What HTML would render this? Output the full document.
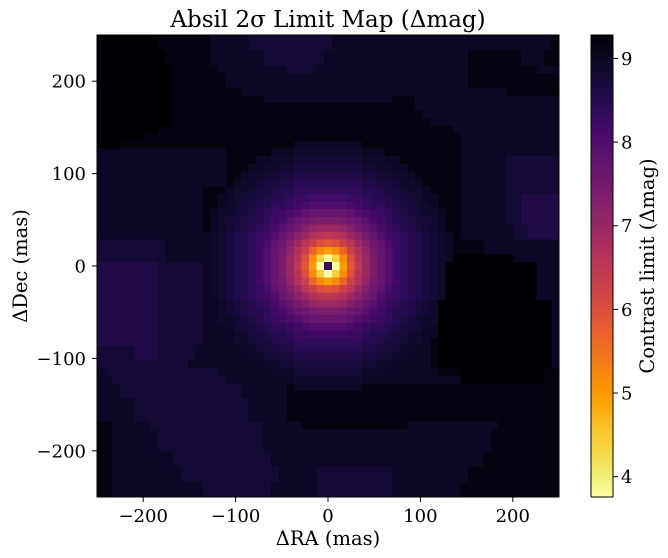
<!DOCTYPE html>
<html><head><meta charset="utf-8"><style>
html,body{margin:0;padding:0;background:#fff;}
svg{display:block;font-family:"DejaVu Serif","Liberation Serif",serif;}
</style></head><body>
<svg id="chart" width="668" height="558" viewBox="0 0 668 558" xmlns="http://www.w3.org/2000/svg">
<text x="328" y="27" font-size="23" text-anchor="middle" fill="#000">Absil 2σ Limit Map (Δmag)</text>
<g id="cells" shape-rendering="crispEdges"></g>
<rect x="97" y="35" width="462" height="462" fill="none" stroke="#000" stroke-width="1"/>
<g id="xaxis"></g>
<g id="yaxis"></g>
<text x="328" y="545" font-size="19.5" text-anchor="middle">ΔRA (mas)</text>
<text transform="translate(27,266) rotate(-90)" font-size="19.5" text-anchor="middle">ΔDec (mas)</text>
<defs><linearGradient id="cbgrad" x1="0" y1="1" x2="0" y2="0"></linearGradient></defs>
<rect x="591" y="35" width="22" height="462" fill="url(#cbgrad)" stroke="#000" stroke-width="1"/>
<g id="cbaxis"></g>
<text transform="translate(654,266) rotate(-90)" font-size="19.5" text-anchor="middle">Contrast limit (Δmag)</text>
</svg>
<script>
// ---- data ----
const levelChars = "0123456789abcdefghijklmnopqrstuvwxyzABCDEFGHIJKLMNOPQRSTUVWXYZ";
const levelTopValue = 9.28;   // Δmag of level 0
const levelStep = 0.1;        // Δmag drop per level
const xTicks = [-200, -100, 0, 100, 200];
const yTicks = [-200, -100, 0, 100, 200];
const cbTicks = [4, 5, 6, 7, 8, 9];
const colorMin = 3.757;
const colorMax = 9.28;
const axisExtent = [-250, 250];
const gridSize = 61;
// background levels, run-length rows (level*count), top row first
const backgroundRuns = [
"0*8,1*7,3*5,5*11,3*29,1*1",
"0*8,1*7,3*5,5*11,3*29,1*1",
"0*9,1*6,3*7,5*8,3*19,1*7,3*3,1*2",
"0*9,1*6,3*7,5*8,3*19,1*7,3*3,1*2",
"0*10,1*6,3*9,5*4,3*20,1*9,3*3",
"0*10,1*7,3*32,1*12",
"0*10,1*7,3*32,1*12",
"0*10,1*9,3*35,1*7",
"0*10,1*12,3*17,1*3,3*19",
"0*10,1*32,3*19",
"0*10,1*33,3*18",
"0*10,1*34,3*17",
"0*8,1*39,3*14",
"0*6,1*42,3*13",
"0*3,1*45,3*13",
"3*17,1*31,3*13",
"3*17,1*31,3*6,5*7",
"3*17,1*31,3*6,5*7",
"3*17,1*31,3*6,5*7",
"3*17,1*31,3*6,5*7",
"3*14,1*34,3*6,5*7",
"3*14,1*34,3*6,5*2,7*5",
"3*14,1*34,3*6,5*2,7*5",
"3*14,1*34,3*6,5*2,7*5",
"3*14,1*34,3*6,5*2,7*5",
"3*14,1*34,3*7,5*2,7*4",
"3*14,1*34,3*7,5*2,7*4",
"5*9,3*5,1*37,3*10",
"5*9,3*5,1*37,3*10",
"5*9,3*5,1*33,0*8,3*6",
"7*8,5*6,3*31,1*1,0*12,3*3",
"7*8,5*6,3*31,1*1,0*12,3*3",
"7*8,5*6,3*31,1*1,0*12,3*3",
"7*8,5*6,3*31,1*1,0*12,3*3",
"7*8,5*6,3*31,1*1,0*12,3*3",
"7*8,5*6,3*30,1*1,0*15,3*1",
"7*8,5*6,3*30,1*1,0*15,3*1",
"7*8,5*6,3*30,1*1,0*15,3*1",
"7*8,5*6,3*30,1*1,0*15,3*1",
"7*8,5*6,3*30,1*1,0*15,3*1",
"7*8,5*6,3*30,1*1,0*15,3*1",
"5*5,7*3,5*5,3*31,1*1,0*15,3*1",
"5*5,7*3,5*5,3*31,1*1,0*15,3*1",
"5*12,3*32,1*1,0*15,3*1",
"3*1,5*15,3*29,1*3,0*11,1*2",
"3*2,5*15,3*31,0*11,1*2",
"3*3,5*16,3*6,1*36",
"3*3,5*16,3*6,1*36",
"3*5,5*15,3*5,1*36",
"3*5,5*15,3*5,1*36",
"3*5,5*15,3*5,1*36",
"1*2,3*5,5*15,3*5,1*14,3*12,1*8",
"1*2,3*6,5*14,3*30,1*9",
"1*2,3*6,5*14,3*30,1*9",
"1*2,3*6,5*14,3*30,1*9",
"1*2,3*8,5*13,3*28,1*10",
"1*2,3*8,5*13,3*28,1*10",
"1*2,3*9,5*13,3*5,5*10,3*10,1*12",
"1*2,3*9,5*13,3*5,5*10,3*10,1*12",
"1*2,3*12,5*9,3*6,5*10,3*9,1*13",
"1*2,3*12,5*9,3*6,5*10,3*9,1*13"
];
// central PSF halo levels, rows 14..46, cols 14..46
const haloOrigin = 14;
const haloRows = [
"222222222222333333333222222222222",
"222222222333444444444333222222222",
"222222233444555555555444332222222",
"222222334455666666666554433222222",
"222223445566777777777665544322222",
"222234456677888888888776654432222",
"222344566788999999999887665443222",
"223345667889aabbbbbaa988766543322",
"22345667899abcdddddcba99876654322",
"234456789abcdfgggggfdcba987654432",
"234567889bceghijjjihgecb988765432",
"23456789acegikmnnnmkigeca98765432",
"3456789abdgilnqrsrqnligdba9876543",
"3456789acfhknruxyxurnkhfca9876543",
"3456789bdgimquAFHFAuqmigdb9876543",
"3456789bdgjnrxFNTNFxrnjgdb9876543",
"3456789bdgjnsyHTaTHysnjgdb9876543",
"3456789bdgjnrxFNTNFxrnjgdb9876543",
"3456789bdgimquAFHFAuqmigdb9876543",
"3456789acfhknruxyxurnkhfca9876543",
"3456789abdgilnqrsrqnligdba9876543",
"23456789acegikmnnnmkigeca98765432",
"234567889bceghijjjihgecb988765432",
"234456789abcdfgggggfdcba987654432",
"22345667899abcdddddcba99876654322",
"223345667889aabbbbbaa988766543322",
"222344566788999999999887665443222",
"222234456677888888888776654432222",
"222223445566777777777665544322222",
"222222334455666666666554433222222",
"222222233444555555555444332222222",
"222222222333444444444333222222222",
"222222222222333333333222222222222"
];
// inferno colormap stops
const infernoStops = ["#000004","#0a0722","#160b39","#280b54","#420a68","#57106e","#6a176e","#7f1e6c","#932667","#a82e5f","#bc3754","#cc4248","#dd513a","#ea632a","#f37819","#f98e09","#fca50a","#fac228","#f6d746","#f1ed71","#fcffa4"];

// ---- helpers ----
const NS = "http://www.w3.org/2000/svg";
const px0 = 97, py0 = 35, pw = 462, ph = 462;
function xScale(v){ return px0 + (v - axisExtent[0]) / (axisExtent[1] - axisExtent[0]) * pw; }
function yScale(v){ return py0 + (axisExtent[1] - v) / (axisExtent[1] - axisExtent[0]) * ph; }
function cbScale(v){ return 35 + (colorMax - v) / (colorMax - colorMin) * 462; }
function hexToRgb(h){ return [parseInt(h.substr(1,2),16),parseInt(h.substr(3,2),16),parseInt(h.substr(5,2),16)]; }
function inferno(t){
  t = Math.max(0, Math.min(1, t));
  const n = infernoStops.length - 1;
  const p = t * n, i = Math.min(n - 1, Math.floor(p)), f = p - i;
  const a = hexToRgb(infernoStops[i]), b = hexToRgb(infernoStops[i+1]);
  return "rgb(" + a.map((x,k)=>Math.round(x + (b[k]-x)*f)).join(",") + ")";
}
function valueColor(v){ return inferno((colorMax - v) / (colorMax - colorMin)); } // reversed inferno
function lvl(ch){ return levelChars.indexOf(ch); }

// ---- heatmap ----
const cellsG = document.getElementById("cells");
const cellMas = (axisExtent[1] - axisExtent[0]) / gridSize;
backgroundRuns.forEach((rowStr, r) => {
  const row = [];
  rowStr.split(",").forEach(run => { const [l, n] = run.split("*"); for (let i = 0; i < +n; i++) row.push(+l); });
  row.forEach((bg, c) => {
    let k = bg;
    const hr = r - haloOrigin, hc = c - haloOrigin;
    if (hr >= 0 && hr < haloRows.length && hc >= 0 && hc < haloRows[hr].length && bg !== 0) {
      const hk = lvl(haloRows[hr][hc]);
      if (hk >= 3 && hk > k) k = hk;
    }
    const v = levelTopValue - k * levelStep;
    const ra = axisExtent[0] + c * cellMas;
    const dec = axisExtent[1] - r * cellMas;
    const x1 = xScale(ra), x2 = xScale(ra + cellMas);
    const y1 = yScale(dec), y2 = yScale(dec - cellMas);
    const rect = document.createElementNS(NS, "rect");
    rect.setAttribute("x", x1.toFixed(2));
    rect.setAttribute("y", y1.toFixed(2));
    rect.setAttribute("width", (x2 - x1 + 0.5).toFixed(2));
    rect.setAttribute("height", (y2 - y1 + 0.5).toFixed(2));
    rect.setAttribute("fill", valueColor(v));
    
    
    cellsG.appendChild(rect);
  });
});

// ---- axes ----
function addLine(g, x1, y1, x2, y2){
  const l = document.createElementNS(NS, "line");
  l.setAttribute("x1", x1); l.setAttribute("y1", y1); l.setAttribute("x2", x2); l.setAttribute("y2", y2);
  l.setAttribute("stroke", "#000"); l.setAttribute("stroke-width", "1");
  g.appendChild(l); return l;
}
function addText(g, x, y, s, anchor){
  const t = document.createElementNS(NS, "text");
  t.setAttribute("x", x); t.setAttribute("y", y);
  t.setAttribute("font-size", "18"); t.setAttribute("text-anchor", anchor);
  t.textContent = s; g.appendChild(t); return t;
}
function fmt(v){ return v < 0 ? "\u2212" + Math.abs(v) : String(v); }
const xg = document.getElementById("xaxis");
xTicks.forEach(v => {
  const x = xScale(v);
  const tk = addLine(xg, x, 497, x, 502);
  
  
  const lb = addText(xg, x, 522, fmt(v), "middle");
  
  
});
const yg = document.getElementById("yaxis");
yTicks.forEach(v => {
  const y = yScale(v);
  const tk = addLine(yg, 92, y, 97, y);
  
  
  const lb = addText(yg, 86, y + 6.5, fmt(v), "end");
  
  
});
// colorbar gradient
const grad = document.getElementById("cbgrad");
for (let i = 0; i <= 40; i++) {
  const s = document.createElementNS(NS, "stop");
  s.setAttribute("offset", (i / 40).toFixed(3));
  s.setAttribute("stop-color", inferno(1 - i / 40));
  grad.appendChild(s);
}
const cg = document.getElementById("cbaxis");
cbTicks.forEach(v => {
  const y = cbScale(v);
  const tk = addLine(cg, 613, y, 618, y);
  
  
  const lb = addText(cg, 621, y + 6.5, String(v), "start");
  
  
});
</script>
</body></html>
